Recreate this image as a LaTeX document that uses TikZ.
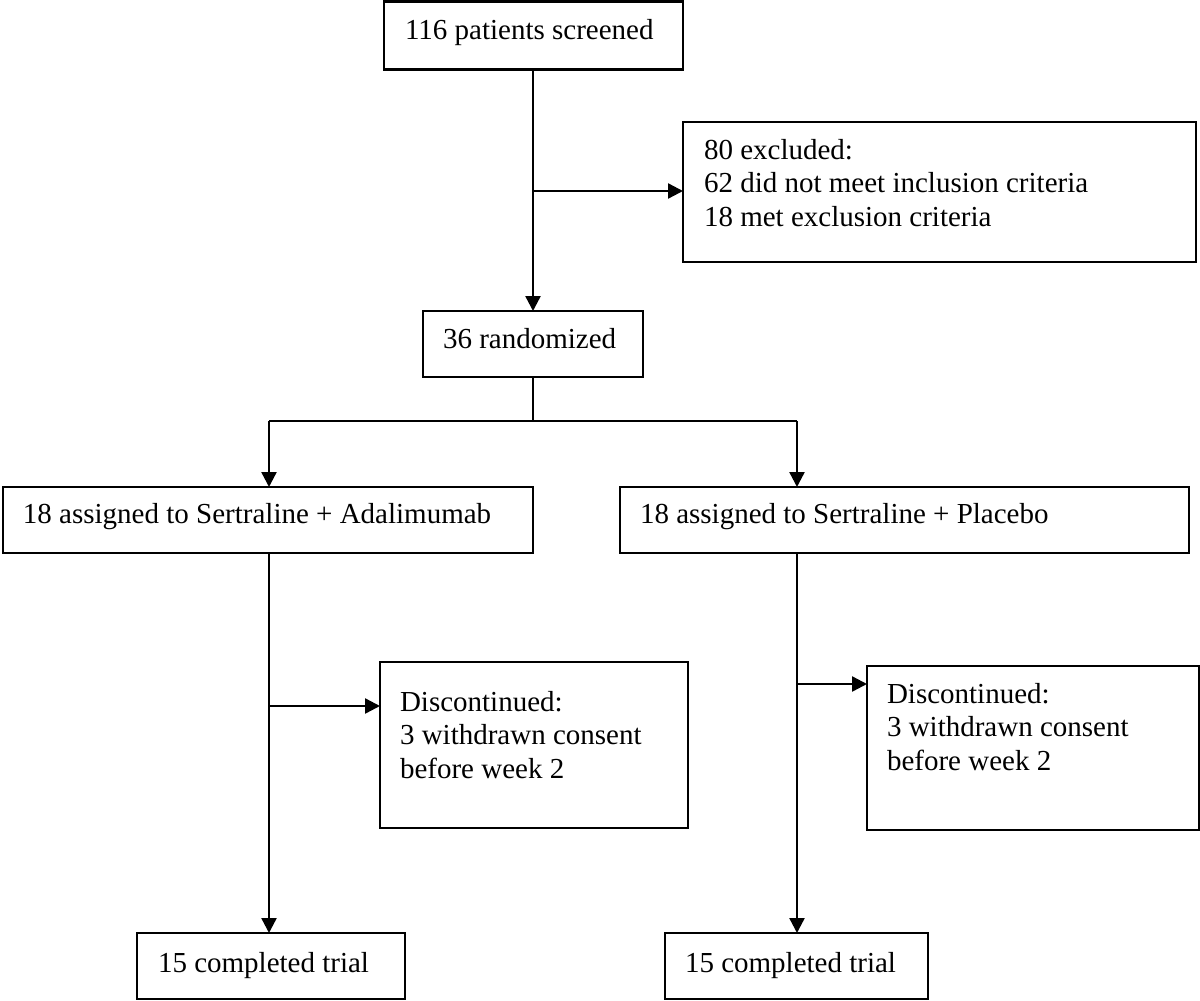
\documentclass[tikz,border=0pt]{standalone}
\usepackage{fontspec}
\setmainfont{Liberation Serif}
\usetikzlibrary{arrows.meta}
\begin{document}
\begin{tikzpicture}[x=1pt,y=-1pt,
  box/.style={draw, line width=2.4pt, inner sep=0pt, outer sep=0pt, anchor=north west},
  txt/.style={align=left, inner sep=0pt, outer sep=0pt, font=\fontsize{29}{33.5}\selectfont},
  conn/.style={line width=2.4pt},
  arr/.style={line width=2.4pt, -{Triangle[length=15pt,width=15pt]}}]
\useasboundingbox (0,0) rectangle (1200,1001);

% boxes
\node[box, minimum width=299pt, minimum height=68pt] (b1) at (384,1.5) {};
\node[box, minimum width=513pt, minimum height=140pt] (ex) at (683,122) {};
\node[box, minimum width=220pt, minimum height=66pt] (rnd) at (423,311) {};
\node[box, minimum width=530pt, minimum height=66pt] (ada) at (3,487) {};
\node[box, minimum width=569pt, minimum height=66pt] (pla) at (620,487) {};
\node[box, minimum width=308pt, minimum height=166pt] (dl) at (380,662) {};
\node[box, minimum width=332pt, minimum height=164pt] (dr) at (867,666) {};
\node[box, minimum width=268pt, minimum height=66pt] (cl) at (137,933) {};
\node[box, minimum width=263pt, minimum height=66pt] (cr) at (665,933) {};

% texts
\node[txt, anchor=base west] (t1) at (405,39) {116 patients screened};
\node[txt, anchor=north west] (tex) at (704,139) {80 excluded:\\62 did not meet inclusion criteria\\18 met exclusion criteria};
\node[txt, anchor=base west] (trnd) at (443,348) {36 randomized};
\node[txt, anchor=base west] (tada) at (23,523) {18 assigned to Sertraline + Adalimumab};
\node[txt, anchor=base west] (tpla) at (640,523) {18 assigned to Sertraline + Placebo};
\node[txt, anchor=north west] (tdl) at (400,691) {Discontinued:\\3 withdrawn consent\\before week 2};
\node[txt, anchor=north west] (tdr) at (887,683) {Discontinued:\\3 withdrawn consent\\before week 2};
\node[txt, anchor=base west] (tcl) at (158,972) {15 completed trial};
\node[txt, anchor=base west] (tcr) at (685,972) {15 completed trial};

% connectors
\coordinate (m1) at (533,191);
\coordinate (m2) at (533,421);
\coordinate (sl) at (269,421);
\coordinate (sr) at (797,421);
\coordinate (bl) at (269,706);
\coordinate (br) at (797,684);

\draw[arr] (b1.south -| m1) -- (rnd.north -| m1);
\draw[arr] (m1) -- (m1 -| ex.west);
\draw[conn] (rnd.south -| m2) -- (m2);
\draw[conn] (sl) -- (sr);
\draw[arr] (sl) -- (sl |- ada.north);
\draw[arr] (sr) -- (sr |- pla.north);
\draw[arr] (ada.south -| sl) -- (cl.north -| sl);
\draw[arr] (bl) -- (bl -| dl.west);
\draw[arr] (pla.south -| sr) -- (cr.north -| sr);
\draw[arr] (br) -- (br -| dr.west);
\end{tikzpicture}
\end{document}
